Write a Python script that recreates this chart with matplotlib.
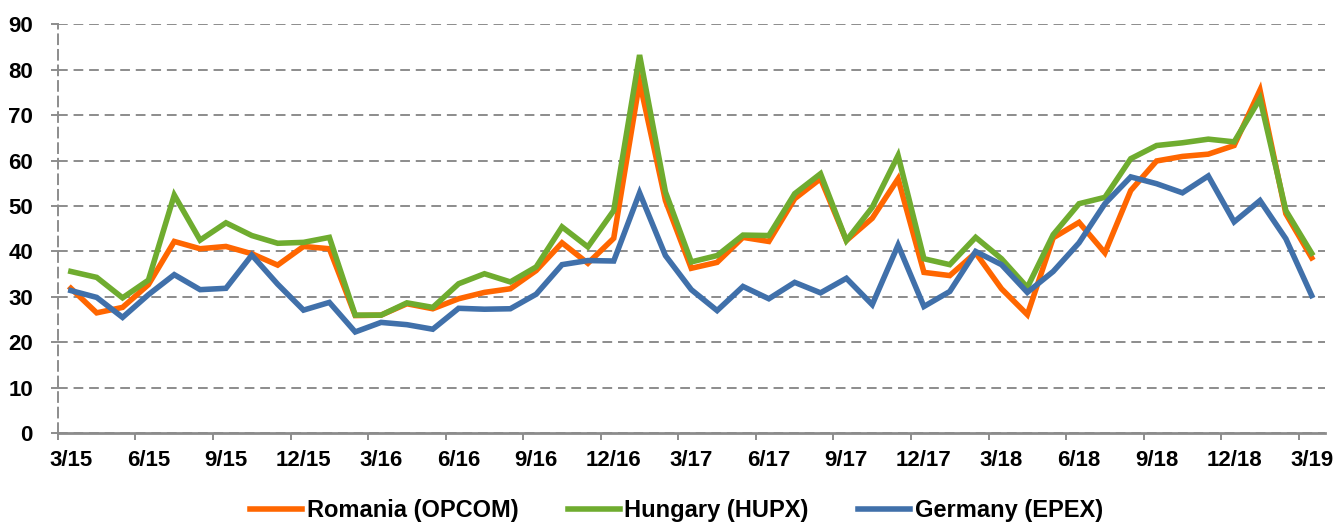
import numpy as np
import matplotlib.pyplot as plt

plt.rcParams['font.family'] = ['Liberation Sans', 'DejaVu Sans']
plt.rcParams['font.weight'] = 'bold'

# monthly averages, 3/15 .. 3/19
romania = [31.9, 26.5, 27.7, 32.7, 42.2, 40.6, 41.1, 39.5, 37.0, 41.1,
           40.6, 25.9, 26.0, 28.5, 27.4, 29.6, 31.0, 31.8, 35.8, 41.9,
           37.4, 42.9, 77.3, 51.2, 36.3, 37.6, 43.1, 42.2, 51.6, 56.0,
           42.4, 47.3, 56.0, 35.4, 34.7, 39.7, 31.8, 26.1, 43.0, 46.4,
           39.7, 53.4, 59.9, 60.9, 61.4, 63.3, 75.5, 48.3, 38.6]
hungary = [35.6, 34.3, 29.8, 33.7, 52.4, 42.5, 46.3, 43.5, 41.8, 42.0,
           43.1, 26.0, 26.0, 28.7, 27.7, 32.9, 35.1, 33.3, 36.6, 45.4,
           41.0, 49.0, 83.2, 53.1, 37.7, 39.1, 43.6, 43.5, 52.7, 57.1,
           42.4, 49.7, 61.1, 38.4, 37.1, 43.1, 38.4, 32.1, 43.7, 50.5,
           51.9, 60.4, 63.3, 63.9, 64.7, 64.1, 73.6, 49.0, 39.6]
germany = [31.4, 29.9, 25.5, 30.5, 34.9, 31.6, 31.9, 39.2, 32.8, 27.1,
           28.8, 22.3, 24.4, 23.9, 22.9, 27.5, 27.3, 27.4, 30.6, 37.1,
           38.0, 37.9, 52.9, 39.1, 31.6, 27.0, 32.3, 29.6, 33.2, 30.9,
           34.1, 28.3, 41.4, 27.9, 31.2, 40.0, 37.1, 31.0, 35.6, 41.9,
           50.5, 56.4, 54.9, 52.9, 56.6, 46.5, 51.2, 42.8, 30.3]

tick_labels = ['3/15', '6/15', '9/15', '12/15', '3/16', '6/16', '9/16', '12/16',
               '3/17', '6/17', '9/17', '12/17', '3/18', '6/18', '9/18', '12/18', '3/19']

x = np.arange(len(romania))
grid_col = '#8c8c8c'

fig = plt.figure(figsize=(13.38, 5.24), dpi=100)
ax = fig.add_axes([0.0433, 0.173, 0.9467, 0.781])

ax.plot(x, romania, color='#ff6600', lw=4, label='Romania (OPCOM)', solid_joinstyle='miter')
ax.plot(x, hungary, color='#6fac2f', lw=4, label='Hungary (HUPX)', solid_joinstyle='miter')
ax.plot(x, germany, color='#4070aa', lw=4, label='Germany (EPEX)', solid_joinstyle='miter')

ax.set_xlim(-0.5, len(romania) - 0.5)
ax.set_ylim(0, 90)
ax.set_yticks(range(0, 91, 10))
ax.yaxis.grid(True, linestyle=(0, (5, 3)), color=grid_col, lw=1.4)
ax.set_axisbelow(True)

ax.set_xticks(x[::3])
ax.set_xticklabels(tick_labels)
ax.set_xticks(np.arange(-0.5, len(romania) - 1, 3), minor=True)
ax.tick_params(axis='x', which='major', length=0, pad=12, labelsize=16)
ax.tick_params(axis='x', which='minor', length=5, width=1.4, color=grid_col, direction='out')
ax.tick_params(axis='y', length=5, width=1.4, color=grid_col, pad=13, labelsize=16)

for s in ['top', 'right']:
    ax.spines[s].set_visible(False)
ax.spines['bottom'].set_color(grid_col)
ax.spines['bottom'].set_linewidth(2)
ax.spines['left'].set_color(grid_col)
ax.spines['left'].set_linewidth(1.4)
ax.spines['left'].set_linestyle((0, (5, 3)))

ax.legend(loc='center', bbox_to_anchor=(0.5056, 0.025), bbox_transform=fig.transFigure,
          ncol=3, frameon=False, fontsize=17, handlelength=2.2, handletextpad=0.2,
          columnspacing=2.1, borderpad=0.1)

plt.savefig('out.png', dpi=100)
